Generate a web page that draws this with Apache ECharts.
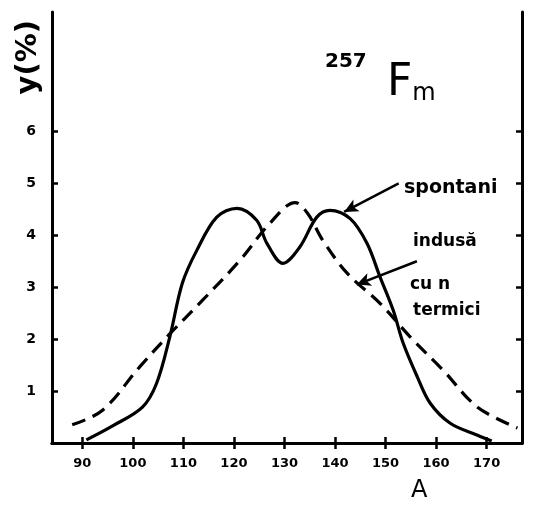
<!DOCTYPE html>
<html>
<head>
<meta charset="utf-8">
<script src="https://cdn.jsdelivr.net/npm/echarts@6/dist/echarts.min.js"></script>
<style>
  html, body { margin: 0; padding: 0; background: #fff; }
  #chart { width: 535px; height: 506px; }
</style>
</head>
<body>
<div id="chart"></div>
<script>
// Fission fragment mass yield of 257Fm: spontaneous vs thermal-neutron induced
const massSpont  = [90.8, 96, 101.9, 104.7, 107.3, 109.8, 112.6, 116.6, 120.6, 124.5, 126.5, 129.7, 133, 136.4, 139, 143, 146.3, 148.9, 151.5, 153.5, 156.3, 158.8, 162.8, 168.2, 171];
const yieldSpont = [0.06, 0.33, 0.69, 1.15, 2.04, 3.08, 3.7, 4.35, 4.52, 4.29, 3.85, 3.46, 3.77, 4.35, 4.48, 4.32, 3.85, 3.2, 2.56, 1.92, 1.27, 0.77, 0.38, 0.15, 0.04];

const massInduced  = [88, 94, 101.3, 107.3, 113.8, 121.2, 127.1, 132.1, 134.6, 137.6, 142.4, 148.9, 154.9, 161.4, 168.2, 176.1];
const yieldInduced = [0.35, 0.63, 1.46, 2.1, 2.75, 3.52, 4.23, 4.63, 4.42, 3.9, 3.27, 2.69, 2.04, 1.4, 0.69, 0.29];

const xTickLabels = [90, 100, 110, 120, 130, 140, 150, 160, 170];
const yTickLabels = [1, 2, 3, 4, 5, 6];

const pairs = (xs, ys) => xs.map((x, i) => [x, ys[i]]);

const FONT = '"DejaVu Sans", sans-serif';
const ink = '#000';

const chart = echarts.init(document.getElementById('chart'), null, { renderer: 'canvas' });

const frameLine = { show: true, lineStyle: { color: ink, width: 3 } };
const tickIn = (vals) => ({ show: true, inside: true, length: 6, customValues: vals, lineStyle: { color: ink, width: 2.5 } });

chart.setOption({
  backgroundColor: '#fff',
  animation: false,
  grid: { left: 52, right: 13, top: 12, bottom: 63, outerBoundsMode: 'none', containLabel: false },
  xAxis: [
    {
      type: 'value', min: 84, max: 177, position: 'bottom',
      axisLine: frameLine,
      axisTick: tickIn(xTickLabels),
      axisLabel: { show: true, customValues: xTickLabels, margin: 14, color: ink, fontFamily: FONT, fontWeight: 'bold', fontSize: 13 },
      splitLine: { show: false }
    },
    {
      type: 'value', min: 84, max: 177, position: 'top',
      axisLine: frameLine,
      axisTick: tickIn(xTickLabels),
      axisLabel: { show: false },
      splitLine: { show: false }
    }
  ],
  yAxis: [
    {
      type: 'value', min: 0, max: 8.3, position: 'left',
      axisLine: frameLine,
      axisTick: tickIn(yTickLabels),
      axisLabel: { show: true, customValues: yTickLabels, margin: 16, color: ink, fontFamily: FONT, fontWeight: 'bold', fontSize: 14 },
      splitLine: { show: false }
    },
    {
      type: 'value', min: 0, max: 8.3, position: 'right',
      axisLine: frameLine,
      axisTick: tickIn(yTickLabels),
      axisLabel: { show: false },
      splitLine: { show: false }
    }
  ],
  series: [
    {
      name: 'spontani', type: 'line', data: pairs(massSpont, yieldSpont),
      smooth: 0.35, showSymbol: false, symbol: 'none',
      lineStyle: { color: ink, width: 3.2 },
      markLine: {
        silent: true, symbol: ['none', 'arrow'], symbolSize: [10, 14],
        lineStyle: { color: ink, width: 2.5, type: 'solid' }, label: { show: false },
        data: [[{ coord: [152.6, 5.0] }, { coord: [141.8, 4.45] }]]
      }
    },
    {
      name: 'indusă cu n termici', type: 'line', data: pairs(massInduced, yieldInduced),
      smooth: 0.35, showSymbol: false, symbol: 'none',
      lineStyle: { color: ink, width: 3.2, type: [14, 8] },
      markLine: {
        silent: true, symbol: ['none', 'arrow'], symbolSize: [10, 14],
        lineStyle: { color: ink, width: 2.5, type: 'solid' }, label: { show: false },
        data: [[{ coord: [156.2, 3.5] }, { coord: [144.3, 3.05] }]]
      }
    }
  ],
  graphic: [
    { type: 'text', left: 14, top: 20, rotation: Math.PI / 2, style: { text: 'y(%)', x: 0, y: 0, font: 'bold 29px ' + FONT, fill: ink } },
    { type: 'text', left: 411, top: 479, style: { text: 'A', font: '24px ' + FONT, fill: ink } },
    { type: 'text', left: 325, top: 52, style: { text: '257', font: 'bold 20px ' + FONT, fill: ink } },
    { type: 'text', left: 387, top: 62, style: { text: '{f|F}{m|m}', rich: { f: { font: '44px ' + FONT, fill: ink, verticalAlign: 'bottom' }, m: { font: '24px ' + FONT, fill: ink, verticalAlign: 'bottom' } } } },
    { type: 'text', left: 404, top: 179, style: { text: 'spontani', font: 'bold 19px ' + FONT, fill: ink } },
    { type: 'text', left: 413, top: 233, style: { text: 'indusă', font: 'bold 17px ' + FONT, fill: ink } },
    { type: 'text', left: 410, top: 276, style: { text: 'cu n', font: 'bold 17px ' + FONT, fill: ink } },
    { type: 'text', left: 413, top: 302, style: { text: 'termici', font: 'bold 17px ' + FONT, fill: ink } }
  ]
});
</script>
</body>
</html>
